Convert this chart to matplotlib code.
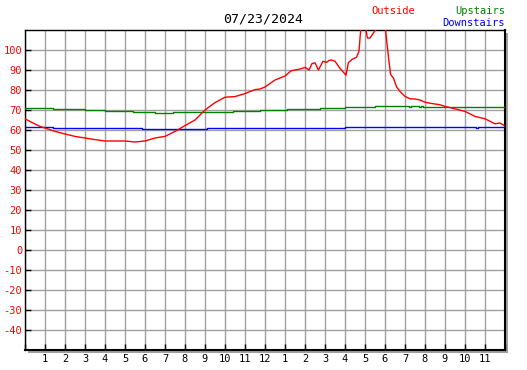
import numpy as np
import matplotlib.pyplot as plt
from matplotlib.patches import Rectangle

# Outside temperature (hours since midnight, degrees F)
outside_h = [0.0, 0.4, 0.75, 1.0, 1.5, 2.0, 2.5, 3.0, 3.5, 4.0, 4.5, 5.0, 5.5, 6.0,
             6.5, 7.0, 7.5, 8.0, 8.5, 9.0, 9.5, 10.0, 10.5, 11.0, 11.5, 11.75, 12.0,
             12.5, 13.0, 13.3, 13.75, 14.0, 14.2, 14.35, 14.5, 14.67, 14.9, 15.08,
             15.2, 15.33, 15.5, 15.75, 16.05, 16.17, 16.35, 16.58, 16.7, 16.8, 17.0,
             17.12, 17.25, 17.42, 17.6, 18.0, 18.08, 18.17, 18.28, 18.42, 18.58,
             18.75, 19.0, 19.25, 19.5, 19.75, 20.0, 20.25, 20.75, 21.0, 21.5, 22.0,
             22.5, 23.0, 23.5, 23.75, 23.95]
outside_t = [65.6, 63.5, 61.8, 61.0, 59.3, 58.0, 56.8, 56.0, 55.2, 54.5, 54.5, 54.5,
             54.0, 54.5, 56.0, 56.8, 59.3, 62.2, 65.0, 70.0, 73.7, 76.4, 76.7, 78.2,
             80.2, 80.5, 81.5, 85.0, 87.0, 89.6, 90.5, 91.3, 90.0, 93.2, 93.6, 90.0,
             94.4, 93.8, 94.8, 95.0, 94.4, 90.8, 87.4, 93.7, 95.3, 96.4, 99.5, 112.0,
             113.0, 106.0, 106.0, 108.5, 111.0, 113.0, 105.0, 96.8, 87.7, 86.0, 81.5,
             79.3, 76.8, 75.6, 75.5, 75.0, 73.9, 73.4, 72.6, 71.8, 70.6, 69.3, 66.8,
             65.6, 63.1, 63.5, 62.3]

# Upstairs
up_h = [0.0, 1.4, 3.0, 4.0, 5.4, 6.5, 7.4, 10.4, 11.75, 13.1, 14.75, 16.0, 17.5,
        19.2, 19.3, 19.7, 19.8, 19.9, 24.0]
up_t = [71.0, 70.5, 70.0, 69.5, 69.0, 68.5, 69.0, 69.5, 70.2, 70.6, 71.2, 71.5,
        72.2, 71.7, 72.2, 71.7, 72.2, 71.5, 71.5]

# Downstairs
down_h = [0.0, 1.4, 5.75, 5.85, 5.95, 9.0, 9.1, 16.0, 22.55, 22.65, 24.0]
down_t = [61.5, 61.0, 61.0, 60.5, 60.5, 60.5, 61.0, 61.5, 61.0, 61.5, 61.5]

hour_labels = ['', '1', '2', '3', '4', '5', '6', '7', '8', '9', '10', '11', '12',
               '1', '2', '3', '4', '5', '6', '7', '8', '9', '10', '11', '']
y_ticks = list(range(-40, 101, 10))

plt.rcParams['font.family'] = ['DejaVu Sans Mono']

W, H = 527, 370
fig = plt.figure(figsize=(W / 100, H / 100), dpi=100)
left, bottom, width, height = 25 / W, 20 / H, 480 / W, 320 / H

# drop shadow behind the plot frame
fig.add_artist(Rectangle((left + 3 / W, bottom - 3 / H), width, height,
                         transform=fig.transFigure, facecolor='#a0a0a0',
                         edgecolor='none', zorder=0))
ax = fig.add_axes([left, bottom, width, height])
ax.set_facecolor('white')
ax.set_zorder(1)

ax.set_xlim(0, 24)
ax.set_ylim(-50, 110)
ax.set_xticks(range(0, 25))
ax.set_xticklabels(hour_labels)
ax.set_yticks(y_ticks)
ax.set_yticklabels([str(v) for v in y_ticks])

ax.grid(True, color='#a0a0a0', linewidth=1.0)
ax.set_axisbelow(True)
for s in ax.spines.values():
    s.set_color('black')
    s.set_linewidth(1.0)
ax.spines['right'].set_linewidth(1.5)
ax.spines['bottom'].set_linewidth(1.5)

ax.tick_params(axis='both', direction='in', length=4, width=1, color='black')
ax.tick_params(axis='y', labelcolor='red', labelsize=7.5, pad=2)
ax.tick_params(axis='x', labelcolor='black', labelsize=7.5, pad=3)

ax.plot(down_h, down_t, color='blue', linewidth=1.0, drawstyle='steps-post', zorder=3)
ax.plot(up_h, up_t, color='green', linewidth=1.0, drawstyle='steps-post', zorder=3)
ax.plot(outside_h, outside_t, color='red', linewidth=1.0, zorder=4)

fig.text(263 / W, 1 - 19 / H, '07/23/2024', ha='center', va='center', fontsize=9.5)
fig.text(393 / W, 1 - 11 / H, 'Outside', ha='center', va='center', fontsize=7.5, color='red')
fig.text(505 / W, 1 - 11 / H, 'Upstairs', ha='right', va='center', fontsize=7.5, color='green')
fig.text(505 / W, 1 - 23 / H, 'Downstairs', ha='right', va='center', fontsize=7.5, color='blue')

fig.savefig('out.png', dpi=100)
